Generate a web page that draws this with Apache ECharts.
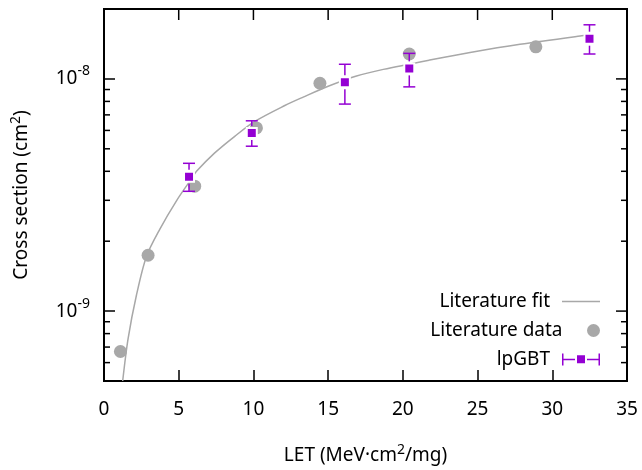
<!DOCTYPE html>
<html>
<head>
<meta charset="utf-8">
<script src="https://cdn.jsdelivr.net/npm/echarts@6/dist/echarts.min.js"></script>
<style>
html,body{margin:0;padding:0;background:#fff;}
#chart{width:642px;height:470px;}
</style>
</head>
<body>
<div id="chart"></div>
<script>
// ---- data ----
const litX = [1.1, 2.95, 6.07, 10.2, 14.45, 20.43, 28.9];
const litY = [6.7e-10, 1.74e-9, 3.45e-9, 6.15e-9, 9.58e-9, 1.28e-8, 1.375e-8];

const ipX  = [5.69, 9.89, 16.12, 20.43, 32.49];
const ipY  = [3.79e-9, 5.85e-9, 9.68e-9, 1.11e-8, 1.49e-8];
const ipLo = [3.28e-9, 5.13e-9, 7.79e-9, 9.24e-9, 1.28e-8];
const ipHi = [4.33e-9, 6.6e-9, 1.156e-8, 1.288e-8, 1.71e-8];

const fitX = [1.25, 1.61, 2.17, 2.84, 3.73, 4.87, 5.9, 6.19, 7.41, 8.75, 10.09, 12.1, 13.33, 15.0, 16.9, 18.69, 21.8, 24.5, 27.84, 31.86, 32.49];
const fitY = [5.0e-10, 7.6e-10, 1.17e-9, 1.72e-9, 2.25e-9, 3.0e-9, 3.75e-9, 4.0e-9, 4.8e-9, 5.66e-9, 6.56e-9, 7.68e-9, 8.35e-9, 9.3e-9, 1.03e-8, 1.099e-8, 1.206e-8, 1.3e-8, 1.41e-8, 1.53e-8, 1.545e-8];

const xMin = 0, xMax = 35, xStep = 5;
const yMin = 5e-10, yMax = 2e-8;
const xTopTicks = [5, 10, 15, 20, 25, 30];
const yMajor = [1e-9, 1e-8];
const yMinor = [6e-10, 7e-10, 8e-10, 9e-10, 2e-9, 3e-9, 4e-9, 5e-9, 6e-9, 7e-9, 8e-9, 9e-9];

const FONT = 'Noto Sans';
const PURPLE = '#9400d3';
const GRAY = '#a8a8a8';

function zip(a, b) { return a.map((v, i) => [v, b[i]]); }

function powLabel(v) {
  const e = Math.log10(v);
  const r = Math.round(e);
  if (Math.abs(e - r) < 1e-6) return '{b|10}{s|' + r + '}';
  return '';
}

const chart = echarts.init(document.getElementById('chart'));

const option = {
  animation: false,
  backgroundColor: '#fff',
  textStyle: {fontFamily: FONT},
  grid: {left: 104, top: 9, width: 523, height: 374,
         show: true, borderColor: '#000', borderWidth: 2, backgroundColor: 'transparent'},
  xAxis: {
    type: 'value', min: xMin, max: xMax, interval: xStep, position: 'bottom',
    axisLine: {show: true, onZero: false, lineStyle: {color: '#000', width: 2}},
    axisTick: {show: true, inside: true, length: 11, lineStyle: {color: '#000', width: 1.5}},
    axisLabel: {margin: 19, color: '#000', fontSize: 19, fontFamily: FONT},
    splitLine: {show: false},
    name: 'LET (MeV·cm{s|2}/mg)', nameLocation: 'middle', nameGap: 62,
    nameTextStyle: {color: '#000', fontSize: 19, fontFamily: FONT,
      rich: {s: {fontSize: 14, fontFamily: FONT, color: '#000', padding: [0, 0, 11, 0]}}}
  },
  yAxis: {
    type: 'log', logBase: 10, min: yMin, max: yMax, position: 'left',
    axisLine: {show: true, onZero: false, lineStyle: {color: '#000', width: 2}},
    axisTick: {show: true, inside: true, length: 11, lineStyle: {color: '#000', width: 1.5}},
    axisLabel: {margin: 14, color: '#000', formatter: powLabel,
      rich: {
        b: {fontSize: 19, fontFamily: FONT, color: '#000'},
        s: {fontSize: 14, fontFamily: FONT, color: '#000', padding: [0, 0, 15, 0]}
      }},
    splitLine: {show: false},
    name: 'Cross section (cm{s|2})', nameLocation: 'middle', nameGap: 70,
    nameTextStyle: {color: '#000', fontSize: 19, fontFamily: FONT,
      rich: {s: {fontSize: 14, fontFamily: FONT, color: '#000', padding: [0, 0, 11, 0]}}}
  },
  legend: [{
    data: [{name: 'Literature fit', icon: 'path://M0,5.3H38V6.7H0Z'}], orient: 'vertical', align: 'right', right: 37, top: 287,
    itemWidth: 38, itemHeight: 12, selectedMode: false,
    textStyle: {fontSize: 19, fontFamily: FONT, color: '#000', padding: [0, 7, 0, 0]}
  }, {
    data: [{name: 'Literature data', icon: 'circle'}], orient: 'vertical', align: 'right', right: 37, top: 316,
    itemWidth: 38, itemHeight: 13, selectedMode: false,
    textStyle: {fontSize: 19, fontFamily: FONT, color: '#000', padding: [0, 7, 0, 0]}
  }, {
    data: [{name: 'lpGBT', icon: 'path://M0,0H1.5V12H0Z M36.5,0H38V12H36.5Z M0,5.25H13V6.75H0Z M25,5.25H38V6.75H25Z M15,1.75H23V9.75H15Z'}],
    orient: 'vertical', align: 'right', right: 37, top: 345,
    itemWidth: 38, itemHeight: 12, selectedMode: false,
    textStyle: {fontSize: 19, fontFamily: FONT, color: '#000', padding: [0, 7, 0, 0]}
  }],
  series: [
    {
      name: 'Literature fit', type: 'line', data: zip(fitX, fitY), symbol: 'none', showSymbol: false,
      smooth: 0.3,
      lineStyle: {color: GRAY, width: 1.5}, itemStyle: {color: GRAY}, z: 2
    },
    {
      name: 'Literature data', type: 'scatter', data: zip(litX, litY), symbol: 'circle', symbolSize: 13,
      itemStyle: {color: GRAY, opacity: 1}, z: 3
    },
    {
      name: 'lpGBT', type: 'custom', coordinateSystem: 'cartesian2d', z: 4,
      data: ipX.map((x, i) => [x, ipY[i], ipLo[i], ipHi[i]]),
      itemStyle: {color: PURPLE},
      renderItem: function (params, api) {
        const x = api.value(0);
        const c = api.coord([x, api.value(1)]);
        const lo = api.coord([x, api.value(2)]);
        const hi = api.coord([x, api.value(3)]);
        const st = {stroke: PURPLE, lineWidth: 1.5};
        const gap = 7, cap = 6;
        const ch = [
          {type: 'line', shape: {x1: hi[0] - cap, y1: hi[1], x2: hi[0] + cap, y2: hi[1]}, style: st},
          {type: 'line', shape: {x1: lo[0] - cap, y1: lo[1], x2: lo[0] + cap, y2: lo[1]}, style: st}
        ];
        if (c[1] - gap > hi[1]) ch.push({type: 'line', shape: {x1: c[0], y1: hi[1], x2: c[0], y2: c[1] - gap}, style: st});
        if (c[1] + gap < lo[1]) ch.push({type: 'line', shape: {x1: c[0], y1: c[1] + gap, x2: c[0], y2: lo[1]}, style: st});
        ch.push({type: 'rect', shape: {x: c[0] - 5, y: c[1] - 5, width: 10, height: 10},
          style: {fill: PURPLE, stroke: '#fff', lineWidth: 2}});
        return {type: 'group', children: ch};
      }
    }
  ]
};
chart.setOption(option);

// ---- frame ticks on top/right and log minor ticks, placed through the chart's own scales ----
const px = (x, y) => chart.convertToPixel({gridIndex: 0}, [x, y]);
const seg = (a, b, w) => ({type: 'line', shape: {x1: a[0], y1: a[1], x2: b[0], y2: b[1]}, style: {stroke: '#000', lineWidth: w}});
const frame = [];
const tl = px(xMin, yMax), tr = px(xMax, yMax), br = px(xMax, yMin);
frame.push(seg([tl[0] - 1, tl[1]], [tr[0] + 1, tr[1]], 2));
frame.push(seg([tr[0], tr[1]], [br[0], br[1] + 1], 2));
xTopTicks.forEach(v => { const p = px(v, yMax); frame.push(seg(p, [p[0], p[1] + 11], 1.5)); });
yMajor.forEach(v => { const p = px(xMax, v); frame.push(seg(p, [p[0] - 11, p[1]], 1.5)); });
yMinor.forEach(v => {
  const l = px(xMin, v), r = px(xMax, v);
  frame.push(seg(l, [l[0] + 6, l[1]], 1.5));
  frame.push(seg(r, [r[0] - 6, r[1]], 1.5));
});
chart.setOption({graphic: frame});
</script>
</body>
</html>
